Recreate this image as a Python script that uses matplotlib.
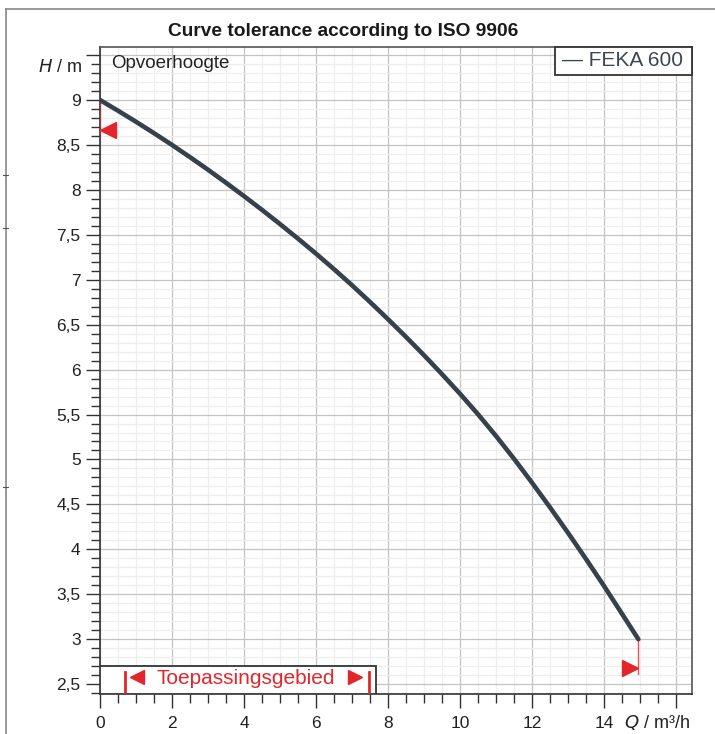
import numpy as np
import matplotlib.pyplot as plt
from matplotlib.patches import Rectangle
from matplotlib.lines import Line2D
from matplotlib.ticker import FixedLocator, MultipleLocator

plt.rcParams['font.family'] = ['Liberation Sans', 'DejaVu Sans']

# pump curve FEKA 600
q = [0, 0.5, 1, 1.5, 2, 2.5, 3, 3.5, 4, 4.5, 5, 5.5, 6, 6.5, 7, 7.5, 8, 8.5, 9, 9.5,
     10, 10.5, 11, 11.5, 12, 12.5, 13, 13.5, 14, 14.5, 14.95]
h = [9.0, 8.881, 8.758, 8.631, 8.5, 8.364, 8.224, 8.079, 7.93, 7.777, 7.619, 7.457, 7.29,
     7.117, 6.938, 6.752, 6.56, 6.363, 6.159, 5.948, 5.73, 5.502, 5.26, 5.006, 4.74,
     4.465, 4.182, 3.89, 3.59, 3.28, 3.0]

x_ticks = [0, 2, 4, 6, 8, 10, 12, 14]
y_ticks = [2.5, 3, 3.5, 4, 4.5, 5, 5.5, 6, 6.5, 7, 7.5, 8, 8.5, 9]
y_labels = ['2,5', '3', '3,5', '4', '4,5', '5', '5,5', '6', '6,5', '7', '7,5', '8', '8,5', '9']

# application range and tolerance markers
range_lo, range_hi = 0.69, 7.47
tol_left = (0.0, 8.67)
tol_right = (14.95, 2.68)

red = '#e3262b'
curve_col = '#37414b'

fig = plt.figure(figsize=(7.15, 7.34), dpi=100)
W, H = 715, 734
ax = fig.add_axes([100 / W, 1 - 694 / H, 592 / W, 647 / H])

ax.set_xlim(0, 16.44)
ax.set_ylim(2.39, 9.59)

# grid
ax.xaxis.set_major_locator(FixedLocator(x_ticks + [16]))
ax.xaxis.set_minor_locator(MultipleLocator(0.5))
ax.yaxis.set_major_locator(FixedLocator(y_ticks + [9.5]))
ax.yaxis.set_minor_locator(MultipleLocator(0.1))
ax.grid(which='minor', color='#eeeeee', linewidth=0.9, zorder=0)
ax.grid(which='major', color='#c4c4c4', linewidth=0.9, zorder=0)
ax.set_axisbelow(True)

ax.set_xticklabels([str(v) for v in x_ticks] + [''])
ax.set_yticklabels(y_labels + [''])
ax.tick_params(which='major', length=10, width=1, color='#333333', labelsize=12.5,
               labelcolor='#222222', pad=4)
ax.tick_params(which='minor', length=6.5, width=1, color='#333333')
ax.tick_params(axis='x', pad=6)

for s in ['left', 'bottom']:
    ax.spines[s].set_color('#333333')
    ax.spines[s].set_linewidth(1.2)
for s in ['top', 'right']:
    ax.spines[s].set_color('#555555')
    ax.spines[s].set_linewidth(1.2)

# curve
ax.plot(q, h, color=curve_col, linewidth=3.3, solid_capstyle='round',
        solid_joinstyle='round', zorder=5)

# tolerance markers
ax.plot([tol_left[0], tol_left[0]], [h[0], 8.6], color=red, linewidth=1, alpha=0.6, zorder=4)
ax.plot([tol_right[0], tol_right[0]], [h[-1], 2.61], color=red, linewidth=1, alpha=0.8, zorder=4)
ax.plot(tol_left[0] + 0.22, tol_left[1], marker='<', color=red, markersize=11, zorder=6,
        clip_on=False)
ax.plot(tol_right[0] - 0.22, tol_right[1], marker='>', color=red, markersize=11, zorder=6)

# application range box
ax.add_patch(Rectangle((0, 2.39), 7.67, 0.31, facecolor='white', edgecolor='#333333',
                       linewidth=1.3, zorder=7))
ax.plot([range_lo, range_lo], [2.41, 2.64], color=red, linewidth=2, zorder=8)
ax.plot([range_hi, range_hi], [2.41, 2.64], color=red, linewidth=2, zorder=8)
ax.plot(1.03, 2.575, marker='<', color=red, markersize=10.5, zorder=8)
ax.plot(7.07, 2.575, marker='>', color=red, markersize=10.5, zorder=8)
ax.text(4.06, 2.56, 'Toepassingsgebied', color=red,
        fontsize=15, ha='center', va='center', zorder=9)

# legend box
ax.add_patch(Rectangle((0.769, 0.957), 0.231, 0.043, transform=ax.transAxes,
                       facecolor='white', edgecolor='#333333', linewidth=1.3, zorder=7,
                       clip_on=False))
ax.text(0.781, 0.9785, '\u2014 FEKA 600', transform=ax.transAxes, color='#3d4752',
        fontsize=15, ha='left', va='center', zorder=8)

ax.text(0.019, 0.988, 'Opvoerhoogte', transform=ax.transAxes, fontsize=13.5,
        color='#222222', ha='left', va='top', zorder=8)

# axis names
fig.text(82 / W, 1 - 67 / H, r'$\mathit{H}$ / m', fontsize=13, color='#222222',
         ha='right', va='center')
fig.text(690 / W, 1 - 722 / H, r'$\mathit{Q}$ / m³/h', fontsize=13, color='#222222',
         ha='right', va='center')

fig.text(343.5 / W, 1 - 31 / H, 'Curve tolerance according to ISO 9906', fontsize=13.8,
         fontweight='bold', color='#1a1a1a', ha='center', va='center')

# outer frame
fig.add_artist(Line2D([5.5 / W, 5.5 / W], [0, 1 - 8.5 / H], color='#888888', linewidth=1.2))
fig.add_artist(Line2D([5.5 / W, 1], [1 - 8.5 / H, 1 - 8.5 / H], color='#888888', linewidth=1.2))
for yy in [175, 228, 487]:
    fig.add_artist(Line2D([3 / W, 8 / W], [1 - yy / H, 1 - yy / H], color='#555555',
                          linewidth=0.8))

fig.savefig('out.png', dpi=100)
